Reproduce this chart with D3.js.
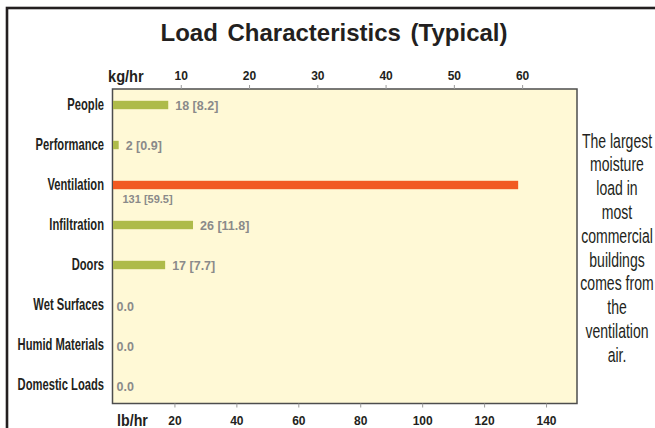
<!DOCTYPE html>
<html>
<head>
<meta charset="utf-8">
<script src="https://cdn.jsdelivr.net/npm/d3@7"></script>
<style>
  html, body { margin: 0; padding: 0; background: #ffffff; }
  svg { display: block; }
  text { font-family: "Liberation Sans", Arial, Helvetica, sans-serif; }
</style>
</head>
<body>
<svg id="chart" width="655" height="428"></svg>
<script>
// Moisture load sources, typical commercial building
const categories = ["People", "Performance", "Ventilation", "Infiltration", "Doors",
                    "Wet Surfaces", "Humid Materials", "Domestic Loads"];
const loadLbHr = [18, 2, 131, 26, 17, 0, 0, 0];
const loadKgHr = [8.2, 0.9, 59.5, 11.8, 7.7, 0, 0, 0];
const lbTicks = [20, 40, 60, 80, 100, 120, 140];
const kgTicks = [10, 20, 30, 40, 50, 60];
const noteLines = ["The largest", "moisture", "load in", "most", "commercial",
                   "buildings", "comes from", "the", "ventilation", "air."];

const LB_PER_KG = 2.2046;
const svg = d3.select("#chart");

const plot = { left: 112.5, right: 577, top: 89, bottom: 403.5 };

const x = d3.scaleLinear().domain([0, 150]).range([plot.left, plot.right]);
const xKg = d3.scaleLinear().domain([0, 150 / LB_PER_KG]).range([plot.left, plot.right]);
const y = d3.scaleBand().domain(categories).range([85, 405])
  .paddingInner(0.79).paddingOuter(0.395);

// outer frame
svg.append("rect")
  .attr("x", 7).attr("y", 8).attr("width", 700).attr("height", 500)
  .attr("fill", "none").attr("stroke", "#231f20").attr("stroke-width", 2.6);

// title
svg.append("text")
  .attr("x", 334).attr("y", 40.5)
  .attr("text-anchor", "middle")
  .attr("font-size", 24).attr("font-weight", "bold")
  .attr("word-spacing", 3)
  .attr("fill", "#231f20")
  .text("Load Characteristics (Typical)");

// plot background
svg.append("rect")
  .attr("x", plot.left).attr("y", plot.top)
  .attr("width", plot.right - plot.left).attr("height", plot.bottom - plot.top)
  .attr("fill", "#fff9d6").attr("stroke", "#4d4d4d").attr("stroke-width", 1.5);

// top axis (kg/hr)
const topAxis = d3.axisTop(xKg).tickValues(kgTicks).tickSize(4).tickPadding(5);
const gTop = svg.append("g").attr("transform", `translate(0,${plot.top})`).call(topAxis);
// bottom axis (lb/hr)
const botAxis = d3.axisBottom(x).tickValues(lbTicks).tickSize(4).tickPadding(9);
const gBot = svg.append("g").attr("transform", `translate(0,${plot.bottom})`).call(botAxis);

[gTop, gBot].forEach(g => {
  g.attr("font-family", null);
  g.select(".domain").remove();
  g.selectAll(".tick line").attr("stroke", "#9a9a9a").attr("stroke-width", 1);
  g.selectAll(".tick text")
    .attr("font-size", 12).attr("font-weight", "bold")
    .attr("fill", "#231f20");
});

// unit labels (condensed)
svg.append("text")
  .attr("transform", "translate(108,81.5) scale(0.86,1)")
  .attr("font-size", 17).attr("font-weight", "bold").attr("fill", "#231f20")
  .text("kg/hr");
svg.append("text")
  .attr("transform", "translate(117,425.5) scale(0.84,1)")
  .attr("font-size", 17).attr("font-weight", "bold").attr("fill", "#231f20")
  .text("lb/hr");

// category labels (condensed)
const catG = svg.append("g");
categories.forEach(c => {
  catG.append("text")
    .attr("transform", `translate(104,${y(c) + y.bandwidth() / 2 + 4.5}) scale(0.70,1)`)
    .attr("text-anchor", "end")
    .attr("font-size", 16).attr("font-weight", "bold").attr("fill", "#231f20")
    .text(c);
});

// bars
const rows = categories.map((c, i) => ({ cat: c, lb: loadLbHr[i], kg: loadKgHr[i] }));
svg.append("g").selectAll("rect").data(rows.filter(d => d.lb > 0)).join("rect")
  .attr("x", x(0) + 0.5)
  .attr("y", d => y(d.cat))
  .attr("width", d => x(d.lb) - x(0) - 0.5)
  .attr("height", y.bandwidth())
  .attr("fill", d => d.lb === d3.max(loadLbHr) ? "#f15a22" : "#aebb4a");

// value labels
svg.append("g").selectAll("text").data(rows).join("text")
  .attr("font-weight", "bold").attr("fill", "#8a8a8a")
  .attr("font-size", d => d.lb > 100 ? 11 : 12.5)
  .attr("x", d => d.lb > 100 ? x(0) + 10 : (d.lb > 0 ? x(d.lb) + 7 : x(0) + 4))
  .attr("y", d => d.lb > 100 ? y(d.cat) + y.bandwidth() + 14
                             : y(d.cat) + y.bandwidth() / 2 + (d.lb > 0 ? 4.5 : 6))
  .text(d => d.lb > 0 ? `${d.lb} [${d.kg}]` : d.lb.toFixed(1));

// side note (condensed)
const note = svg.append("g");
noteLines.forEach((t, i) => {
  note.append("text")
    .attr("transform", `translate(617,${147.5 + i * 23.8}) scale(0.72,1)`)
    .attr("text-anchor", "middle")
    .attr("font-size", 19.5).attr("fill", "#231f20")
    .text(t);
});
</script>
</body>
</html>
